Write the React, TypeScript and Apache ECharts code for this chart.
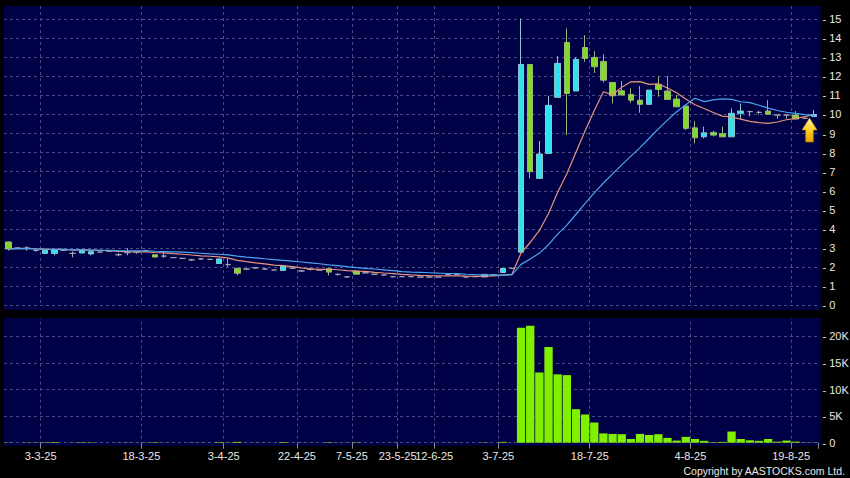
import React, { useEffect, useRef } from 'react';
import * as echarts from 'echarts';

const dates = [
  '25-2-25', '26-2-25', '27-2-25', '28-2-25',
  '3-3-25', '4-3-25', '5-3-25', '6-3-25', '7-3-25', '10-3-25', '11-3-25', '12-3-25', '13-3-25', '14-3-25', '17-3-25',
  '18-3-25', '19-3-25', '20-3-25', '21-3-25', '24-3-25', '26-3-25', '27-3-25', '31-3-25', '1-4-25',
  '3-4-25', '7-4-25', '8-4-25', '9-4-25', '10-4-25', '14-4-25', '16-4-25', '17-4-25',
  '22-4-25', '24-4-25', '25-4-25', '28-4-25', '29-4-25', '2-5-25',
  '7-5-25', '9-5-25', '13-5-25', '15-5-25', '20-5-25',
  '23-5-25', '28-5-25', '3-6-25', '6-6-25',
  '12-6-25', '16-6-25', '19-6-25', '20-6-25', '24-6-25', '26-6-25', '30-6-25',
  '3-7-25', '7-7-25', '8-7-25', '9-7-25', '10-7-25', '11-7-25', '14-7-25', '15-7-25', '16-7-25', '17-7-25',
  '18-7-25', '21-7-25', '22-7-25', '23-7-25', '24-7-25', '25-7-25', '28-7-25', '29-7-25', '30-7-25', '31-7-25', '1-8-25',
  '4-8-25', '5-8-25', '6-8-25', '7-8-25', '8-8-25', '11-8-25', '12-8-25', '13-8-25', '14-8-25', '15-8-25', '18-8-25',
  '19-8-25', '20-8-25', '21-8-25',
];

const tickLabels = ['3-3-25', '18-3-25', '3-4-25', '22-4-25', '7-5-25', '23-5-25', '12-6-25', '3-7-25', '18-7-25', '4-8-25', '19-8-25'];

const opens = [
  3.32, 3.00, 3.00, 2.88, 2.72, 2.72, 2.88, 2.72, 2.74, 2.69,
  2.79, 2.83, 2.65, 2.76, 2.79, 2.87, 2.65, 2.58, 2.50, 2.46,
  2.38, 2.43, 2.41, 2.19, 2.13, 1.94, 1.90, 1.96, 1.90, 1.85,
  1.83, 1.95, 1.80, 1.89, 1.85, 1.92, 1.62, 1.49, 1.80, 1.70,
  1.63, 1.59, 1.50, 1.50, 1.50, 1.48, 1.48, 1.48, 1.61, 1.62,
  1.48, 1.50, 1.49, 1.60, 1.72, 1.94, 2.78, 12.62, 6.65, 7.96,
  10.90, 13.78, 11.23, 13.51, 12.99, 12.78, 11.68, 11.24, 11.05, 10.75,
  10.53, 11.58, 11.23, 10.81, 10.44, 9.30, 8.83, 9.06, 8.99, 8.83,
  10.06, 10.15, 10.11, 10.18, 9.97, 9.97, 9.97, 9.80, 9.90,
];

const closes = [
  2.95, 3.00, 3.00, 2.88, 2.88, 2.90, 2.88, 2.72, 2.91, 2.81,
  2.79, 2.83, 2.65, 2.76, 2.79, 2.87, 2.53, 2.58, 2.50, 2.46,
  2.38, 2.43, 2.41, 2.43, 2.13, 1.68, 1.90, 1.96, 1.90, 1.85,
  2.06, 1.95, 1.80, 1.89, 1.85, 1.74, 1.62, 1.49, 1.63, 1.70,
  1.63, 1.59, 1.50, 1.50, 1.50, 1.48, 1.48, 1.48, 1.61, 1.62,
  1.48, 1.50, 1.62, 1.60, 1.93, 1.94, 12.62, 7.00, 7.93, 10.48,
  12.68, 11.10, 12.89, 12.94, 12.50, 11.80, 10.98, 11.02, 10.75, 10.53,
  11.28, 11.31, 10.79, 10.40, 9.27, 8.78, 9.04, 8.92, 8.83, 10.06,
  10.18, 10.15, 10.11, 10.01, 9.97, 9.97, 9.76, 9.80, 10.00,
];

const lows = [
  2.86, 2.98, 2.86, 2.80, 2.72, 2.62, 2.86, 2.51, 2.74, 2.62,
  2.79, 2.83, 2.57, 2.62, 2.70, 2.78, 2.50, 2.48, 2.50, 2.46,
  2.32, 2.39, 2.41, 2.19, 2.02, 1.57, 1.85, 1.92, 1.86, 1.85,
  1.83, 1.95, 1.76, 1.82, 1.85, 1.56, 1.55, 1.45, 1.63, 1.70,
  1.63, 1.59, 1.46, 1.50, 1.50, 1.48, 1.48, 1.48, 1.59, 1.59,
  1.48, 1.50, 1.47, 1.60, 1.71, 1.94, 2.78, 6.65, 6.65, 7.96,
  10.90, 8.92, 11.23, 12.76, 12.18, 11.68, 10.58, 11.02, 10.61, 10.09,
  10.53, 10.93, 10.79, 10.40, 9.18, 8.49, 8.75, 8.85, 8.83, 8.83,
  9.80, 9.90, 10.00, 10.01, 9.78, 9.78, 9.76, 9.78, 9.90,
];

const highs = [
  3.35, 3.05, 3.10, 2.92, 2.90, 2.90, 2.90, 2.83, 2.91, 2.81,
  2.79, 2.83, 2.76, 3.00, 2.86, 2.92, 2.66, 2.79, 2.50, 2.46,
  2.44, 2.48, 2.41, 2.43, 2.46, 1.94, 1.93, 2.01, 1.95, 1.85,
  2.06, 1.95, 1.86, 1.95, 1.85, 1.92, 1.68, 1.53, 1.80, 1.70,
  1.63, 1.59, 1.53, 1.50, 1.50, 1.48, 1.48, 1.48, 1.64, 1.66,
  1.48, 1.50, 1.64, 1.60, 1.94, 1.94, 15.03, 12.62, 8.61, 10.98,
  13.06, 14.51, 13.00, 14.16, 13.32, 13.15, 11.68, 11.75, 11.37, 11.49,
  11.28, 12.01, 12.01, 11.02, 10.50, 9.65, 9.36, 9.15, 9.36, 10.32,
  10.58, 10.20, 10.20, 10.75, 9.97, 9.97, 10.18, 9.85, 10.23,
];

const volumes = [
  60, 0, 40, 20, 80, 120, 0, 30, 90, 70,
  0, 0, 20, 40, 10, 30, 90, 20, 0, 0,
  30, 20, 0, 110, 40, 160, 10, 30, 10, 0,
  120, 0, 20, 10, 0, 90, 20, 30, 80, 0,
  0, 0, 20, 0, 0, 0, 0, 0, 20, 20,
  0, 0, 60, 0, 150, 0, 21600, 22000, 13200, 18000,
  12850, 12700, 6300, 5300, 3800, 1750, 1650, 1600, 700, 1650,
  1450, 1600, 900, 400, 1100, 700, 350, 100, 150, 2100,
  700, 450, 350, 700, 200, 400, 200, 50, 30,
];

const maShort = 10;
const maLong = 20;

function movingAverage(vals: number[], n: number): number[] {
  return vals.map((_, i) => {
    const s = Math.max(0, i - n + 1);
    let sum = 0;
    for (let j = s; j <= i; j++) sum += vals[j];
    return +(sum / (i - s + 1)).toFixed(3);
  });
}

const FONT = '"Liberation Sans", Arial, sans-serif';
const GRID_LINE = { color: '#4a4a86', width: 1, type: [3, 3] as number[] };

export default function App() {
  const ref = useRef<HTMLDivElement>(null);

  useEffect(() => {
    document.body.style.margin = '0';
    document.body.style.background = '#000';
    if (!ref.current) return;
    const chart = echarts.init(ref.current, null, { renderer: 'svg' });

    const isLabel = (_i: number, v: string) => tickLabels.includes(v);
    const candles = dates.map((_, i) => [opens[i], closes[i], lows[i], highs[i]]);

    const option: any = {
      animation: false,
      backgroundColor: '#000',
      graphic: [
        { type: 'rect', z: -10, silent: true, shape: { x: 4, y: 6, width: 816.7, height: 304 }, style: { fill: '#000046' } },
        { type: 'rect', z: -10, silent: true, shape: { x: 4, y: 318, width: 816.7, height: 127.7 }, style: { fill: '#000046' } },
        { type: 'rect', z: 50, silent: true, shape: { x: 0, y: 0, width: 821, height: 6 }, style: { fill: '#000' } },
        { type: 'rect', z: 50, silent: true, shape: { x: 0, y: 310, width: 821, height: 8 }, style: { fill: '#000' } },
        {
          type: 'polygon', z: 100, silent: true,
          shape: { points: [[809.5, 118], [817, 130], [813.3, 130], [813.3, 142], [805.7, 142], [805.7, 130], [802, 130]] },
          style: {
            fill: new echarts.graphic.LinearGradient(0, 0, 0, 1, [
              { offset: 0, color: '#fff6a0' },
              { offset: 0.5, color: '#ffd020' },
              { offset: 1, color: '#e8a000' },
            ]),
            stroke: '#b88a10', lineWidth: 0.6,
          },
        },
        {
          type: 'text', z: 100, silent: true,
          style: { text: 'Copyright by AASTOCKS.com Ltd.', x: 845, y: 471, align: 'right', verticalAlign: 'middle', fill: '#e8e8e8', font: '10.5px ' + FONT },
        },
      ],
      grid: [
        { left: 4, top: 0, width: 814.5, height: 305.3, outerBoundsMode: 'none', containLabel: false },
        { left: 4, top: 309.7, width: 814.5, height: 133, outerBoundsMode: 'none', containLabel: false },
      ],
      xAxis: [
        {
          type: 'category', gridIndex: 0, data: dates, boundaryGap: true,
          axisLine: { show: false }, axisTick: { show: false }, axisLabel: { show: false },
          splitLine: { show: true, interval: isLabel, showMaxLine: false, lineStyle: GRID_LINE },
        },
        {
          type: 'category', gridIndex: 1, data: dates, boundaryGap: true,
          axisLine: { show: false },
          axisTick: { show: true, interval: isLabel, length: 6, lineStyle: { color: '#8a8a8a' } },
          axisLabel: { show: true, interval: isLabel, color: '#e8e8e8', fontSize: 11, fontFamily: FONT, margin: 8, padding: [0, 9, 0, 0], hideOverlap: false },
          splitLine: { show: true, interval: isLabel, showMaxLine: false, lineStyle: GRID_LINE },
        },
      ],
      yAxis: [
        {
          type: 'value', gridIndex: 0, position: 'right', min: 0, max: 16, interval: 1,
          axisLine: { show: false }, axisTick: { show: false },
          axisLabel: { color: '#e8e8e8', fontSize: 11, fontFamily: FONT, margin: 4, formatter: (v: number) => (v >= 16 ? '' : '- ' + v) },
          splitLine: { show: true, showMaxLine: false, lineStyle: GRID_LINE },
        },
        {
          type: 'value', gridIndex: 1, position: 'right', min: 0, max: 25000, interval: 5000,
          axisLine: { show: false }, axisTick: { show: false },
          axisLabel: {
            color: '#e8e8e8', fontSize: 11, fontFamily: FONT, margin: 4,
            formatter: (v: number) => (v >= 25000 ? '' : '- ' + (v === 0 ? '0' : v / 1000 + 'K')),
          },
          splitLine: { show: true, showMaxLine: false, lineStyle: GRID_LINE },
        },
      ],
      series: [
        {
          type: 'candlestick', xAxisIndex: 0, yAxisIndex: 0, data: candles, barWidth: 6,
          itemStyle: {
            color: '#2fe2f0', color0: '#84d82a',
            borderColor: '#8cc4d0', borderColor0: '#98b878', borderColorDoji: '#a4a4ac', borderWidth: 1,
          },
        },
        {
          type: 'line', xAxisIndex: 0, yAxisIndex: 0, data: movingAverage(closes, maShort),
          showSymbol: false, symbol: 'none', lineStyle: { color: '#e8957a', width: 1.2 }, z: 3,
        },
        {
          type: 'line', xAxisIndex: 0, yAxisIndex: 0, data: movingAverage(closes, maLong),
          showSymbol: false, symbol: 'none', lineStyle: { color: '#4aa6f0', width: 1.2 }, z: 3,
        },
        {
          type: 'bar', xAxisIndex: 1, yAxisIndex: 1, data: volumes, barCategoryGap: '9%',
          itemStyle: { color: '#80f000' },
        },
      ],
    };

    chart.setOption(option);
    return () => chart.dispose();
  }, []);

  return <div ref={ref} style={{ width: 850, height: 478, background: '#000' }} />;
}
